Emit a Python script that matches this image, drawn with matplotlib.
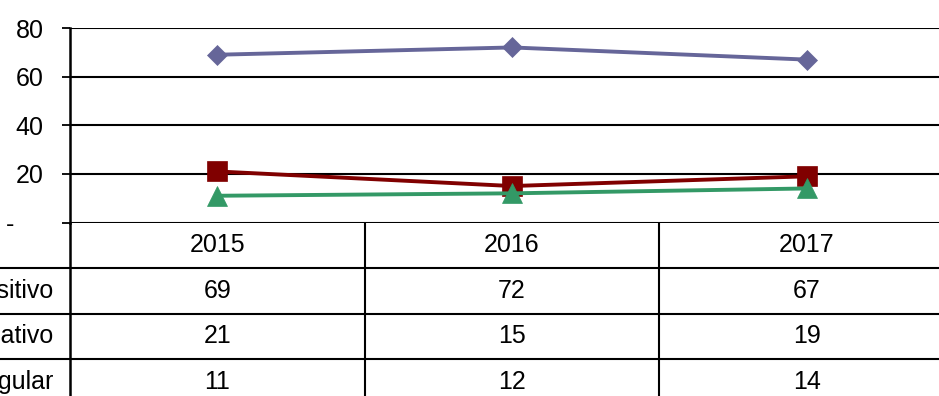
import matplotlib.pyplot as plt
import matplotlib.transforms as mtransforms

plt.rcParams['font.family'] = ['Liberation Sans', 'DejaVu Sans']

# Values per year
years = ['2015', '2016', '2017']
series_names = ['Positivo', 'Negativo', 'Regular']
positivo = [69, 72, 67]
negativo = [21, 15, 19]
regular = [11, 12, 14]
y_ticks = [0, 20, 40, 60, 80]
y_tick_labels = ['-', '20', '40', '60', '80']

colors = ['#666699', '#800000', '#339966']
markers = ['D', 's', '^']
marker_sizes = [10.5, 14, 15]

W, H = 939, 396
fig = plt.figure(figsize=(W / 100, H / 100), dpi=100)

# plot area, in pixels (the right end runs past the canvas)
left_px, right_px = 70, 954
top_px, zero_px = 28, 222.5
row_h = 45.5
fs = 18

ax = fig.add_axes([left_px / W, (H - zero_px) / H,
                   (right_px - left_px) / W, (zero_px - top_px) / H])
x = range(len(years))
for vals, c, m, ms in zip([positivo, negativo, regular], colors, markers,
                          marker_sizes):
    ax.plot(x, vals, color=c, lw=2.8, marker=m, ms=ms, mec=c, mew=0.5,
            zorder=3)

ax.set_xlim(-0.5, len(years) - 0.5)
ax.set_ylim(0, 80)
ax.set_yticks(y_ticks)
ax.set_yticklabels(y_tick_labels)
ax.set_xticks([])
ax.tick_params(axis='y', direction='out', length=6, width=1.3, pad=13,
               labelsize=fs, color='black')
ax.grid(axis='y', color='black', lw=1.5)
ax.set_axisbelow(True)
for s in ['top', 'right', 'bottom']:
    ax.spines[s].set_visible(False)
ax.spines['left'].set_linewidth(1.8)

# push the zero label ("-") further left
dash = ax.get_yticklabels()[0]
dash.set_transform(dash.get_transform() +
                   mtransforms.ScaledTranslation(-0.29, 0, fig.dpi_scale_trans))

# data table under the plot
n_rows = len(series_names) + 1
tab = fig.add_axes([left_px / W, (H - zero_px - n_rows * row_h) / H,
                    (right_px - left_px) / W, n_rows * row_h / H])
tab.set_xlim(-0.5, len(years) - 0.5)
tab.set_ylim(n_rows, 0)
tab.set_xticks([])
tab.set_yticks([])
for s in ['top', 'right', 'bottom']:
    tab.spines[s].set_visible(False)
tab.spines['left'].set_linewidth(1.8)
tab.patch.set_alpha(0)

cat_px = (right_px - left_px) / len(years)
x_left_edge = -0.5 - left_px / cat_px
tab.hlines(range(1, n_rows), x_left_edge, len(years) - 0.5, color='black',
           lw=1.5, clip_on=False)
tab.vlines([i + 0.5 for i in range(len(years) - 1)], 0, n_rows,
           color='black', lw=1.5)

for i, yr in enumerate(years):
    tab.text(i, 0.5, yr, ha='center', va='center', fontsize=fs)
for r, (name, vals) in enumerate(zip(series_names,
                                     [positivo, negativo, regular]), start=1):
    tab.text(-0.5 - 17 / cat_px, r + 0.5, name, ha='right', va='center',
             fontsize=fs, clip_on=False)
    for i, v in enumerate(vals):
        tab.text(i, r + 0.5, str(v), ha='center', va='center', fontsize=fs)

fig.savefig('out.png', dpi=100)
